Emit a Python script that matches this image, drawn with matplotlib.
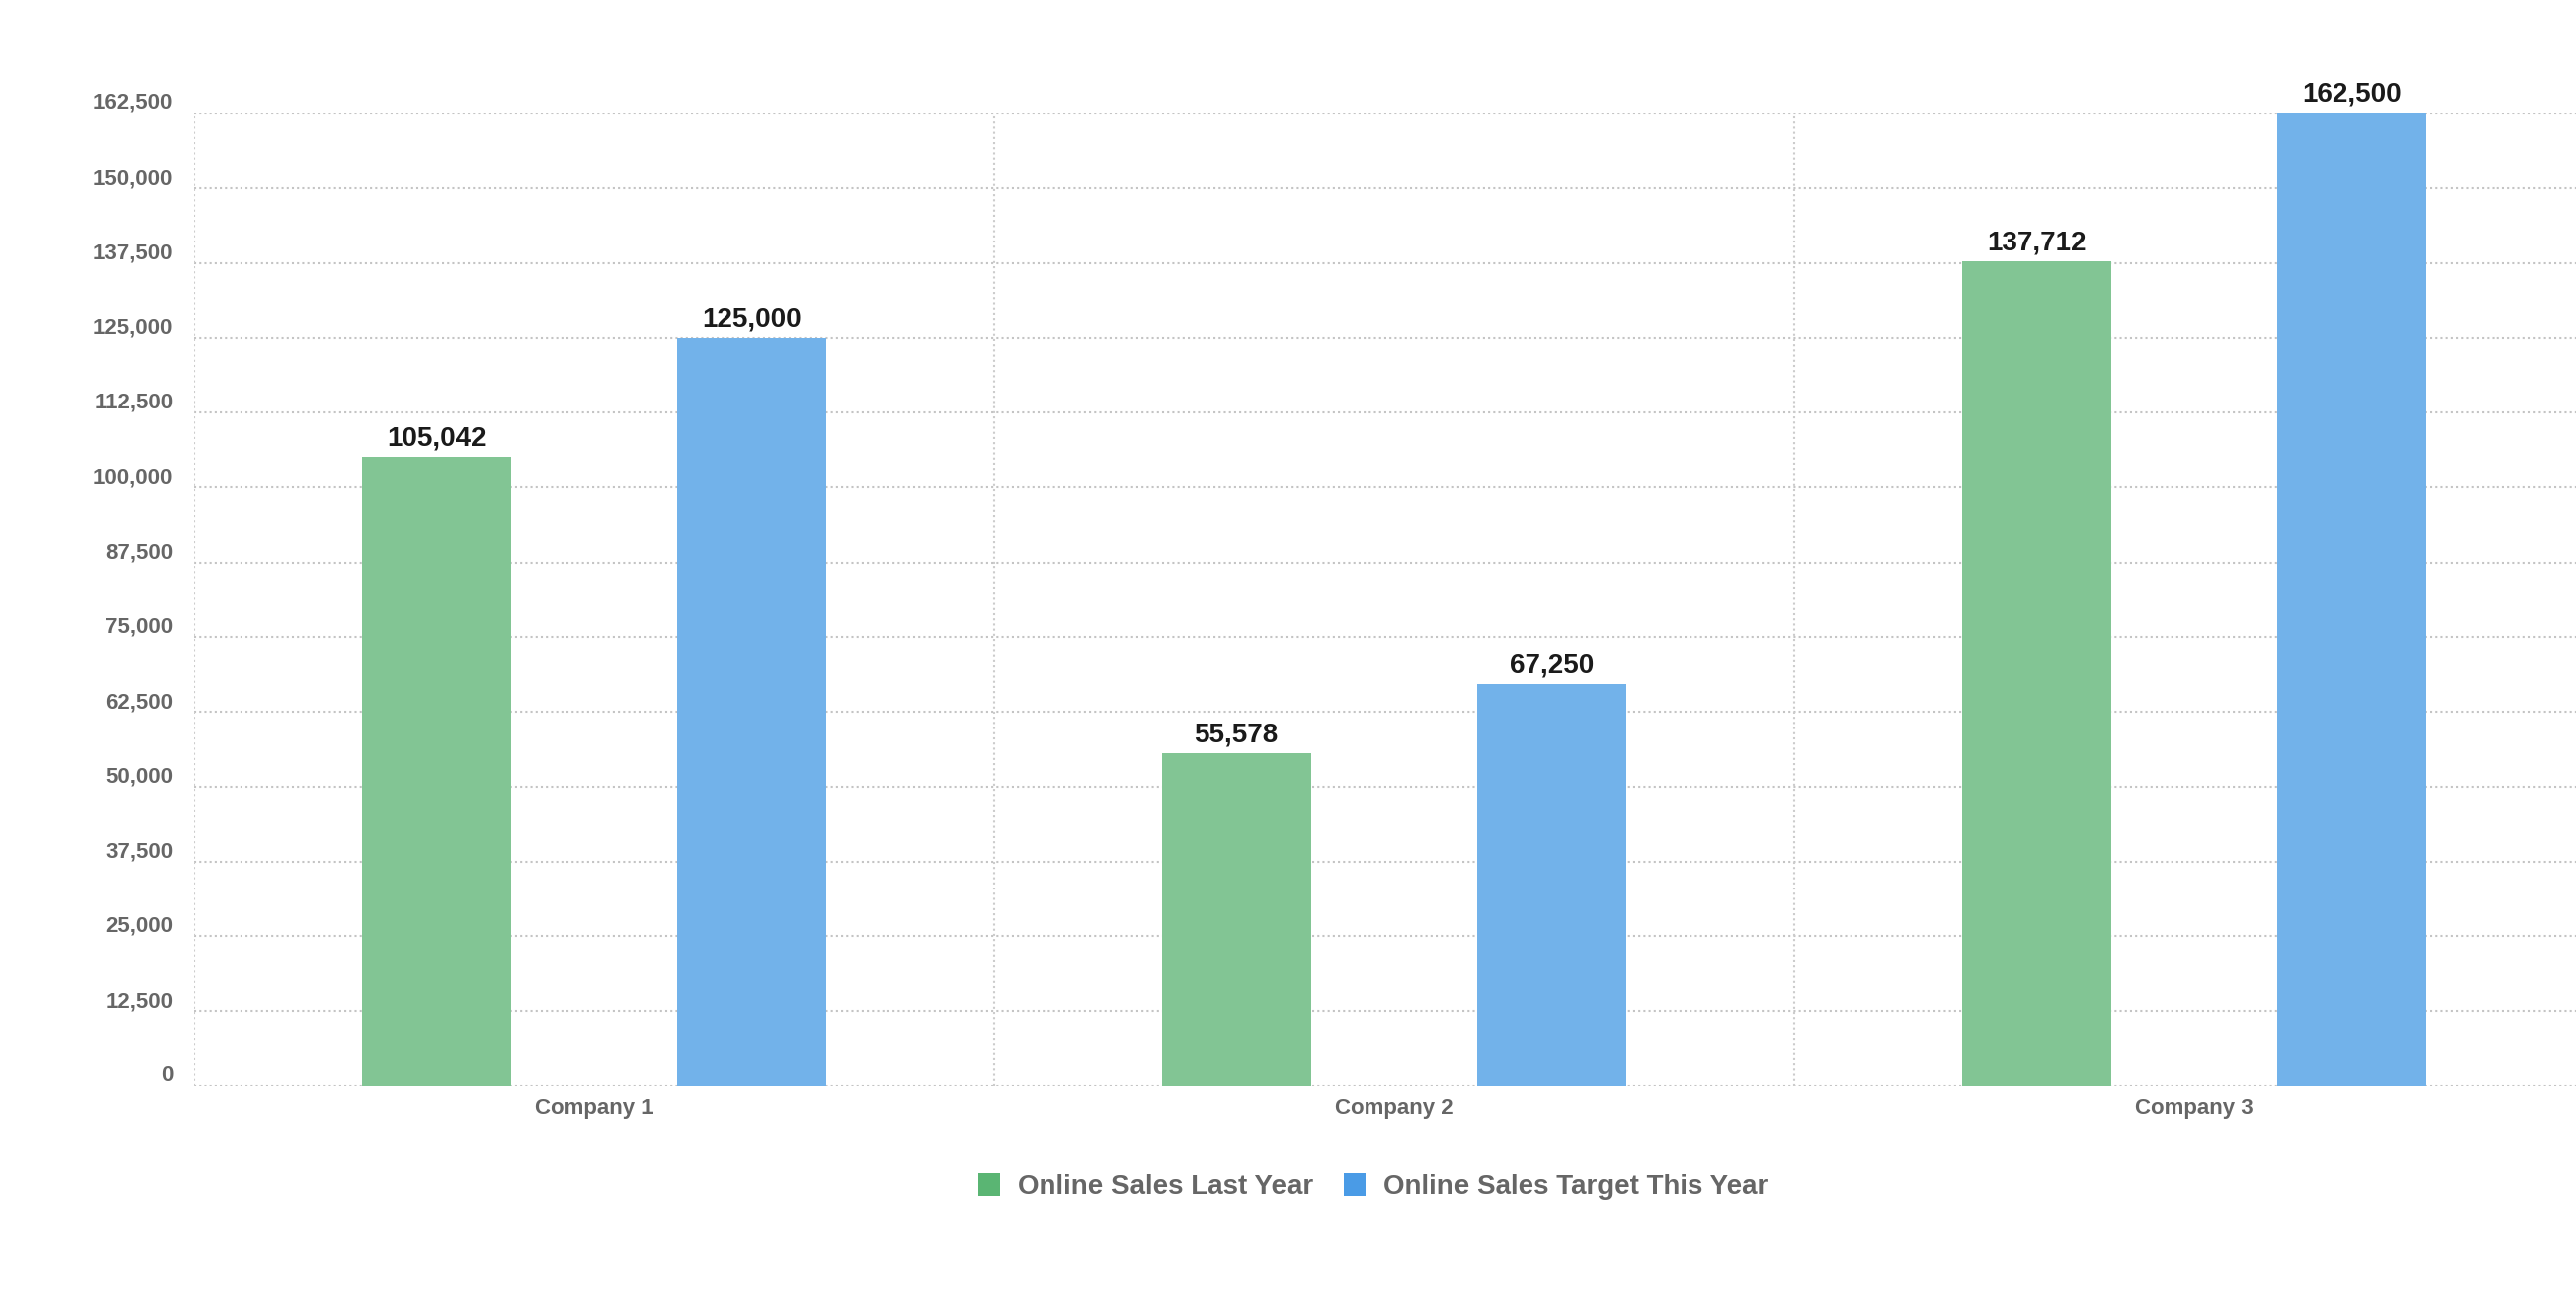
import matplotlib.pyplot as plt
import matplotlib.transforms as mtransforms
from matplotlib.patches import Patch
import numpy as np

plt.rcParams['font.family'] = ['Liberation Sans', 'DejaVu Sans']
plt.rcParams['font.weight'] = 'bold'

# data
companies = ['Company 1', 'Company 2', 'Company 3']
series_names = ['Online Sales Last Year', 'Online Sales Target This Year']
last_year = [105042, 55578, 137712]
target_year = [125000, 67250, 162500]
y_ticks = [0, 12500, 25000, 37500, 50000, 62500, 75000, 87500,
           100000, 112500, 125000, 137500, 150000, 162500]

bar_cols = ['#82c594', '#72b2ea']
legend_cols = ['#5ab573', '#4a9be6']
grey = '#666666'

fig = plt.figure(figsize=(25.92, 13), dpi=100)
ax = fig.add_axes([0.0753, 0.1595, 0.9317, 0.7528])

x = np.arange(len(companies))
w = 0.186
off = 0.197
b1 = ax.bar(x - off, last_year, w, color=bar_cols[0], zorder=2)
b2 = ax.bar(x + off, target_year, w, color=bar_cols[1], zorder=2)

# value labels above bars
for bars, vals in [(b1, last_year), (b2, target_year)]:
    for r, v in zip(bars, vals):
        ax.annotate(f'{v:,}', (r.get_x() + r.get_width() / 2, r.get_height()),
                    xytext=(0, 4), textcoords='offset points',
                    ha='center', va='bottom', fontsize=20, color='#1a1a1a',
                    fontweight='bold')

ax.set_xlim(-0.5, len(companies) - 0.5)
ax.set_ylim(0, 162500)

# dotted grid
for yv in y_ticks:
    ax.axhline(yv, color='#c4c4c4', linestyle=(0, (1, 1.5)), linewidth=1.5, zorder=1)
for xv in [-0.5, 0.5, 1.5]:
    ax.axvline(xv, color='#cccccc', linestyle=(0, (1, 1.5)), linewidth=1.5, zorder=1)

for s in ax.spines.values():
    s.set_visible(False)

ax.set_yticks(y_ticks)
ax.set_yticklabels([f'{v:,}' for v in y_ticks], fontsize=16, color=grey, fontweight='bold')
ax.tick_params(axis='y', length=0, pad=15)
shift = mtransforms.ScaledTranslation(0, 3 / 72, fig.dpi_scale_trans)
for lab in ax.get_yticklabels():
    lab.set_verticalalignment('baseline')
    lab.set_transform(lab.get_transform() + shift)

ax.set_xticks(x)
ax.set_xticklabels(companies, fontsize=16, color=grey, fontweight='bold')
ax.tick_params(axis='x', length=0, pad=9)

handles = [Patch(facecolor=c, edgecolor='none') for c in legend_cols]
fig.legend(handles, series_names, loc='center', bbox_to_anchor=(0.533, 0.082),
           ncol=2, frameon=False, labelcolor=grey,
           handlelength=0.8, handleheight=0.9, handletextpad=0.65,
           columnspacing=1.1, prop={'weight': 'bold', 'size': 20})

fig.savefig('out.png', dpi=100)
